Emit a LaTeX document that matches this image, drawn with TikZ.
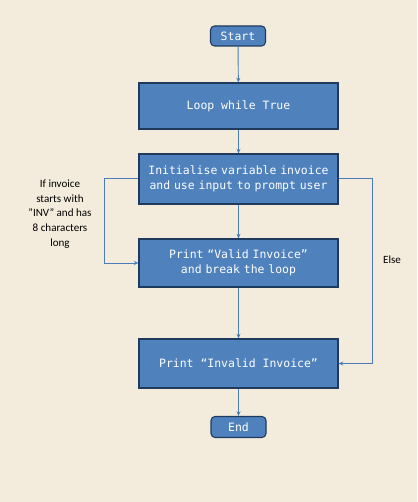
\documentclass[tikz,border=0pt]{standalone}
\usepackage{fontspec}
\setmainfont{Carlito}
\newfontfamily\monof{DejaVu Sans Mono}
\usetikzlibrary{arrows.meta}
\definecolor{bg}{HTML}{F3ECDC}
\definecolor{boxc}{HTML}{4F81BD}
\definecolor{edgec}{HTML}{203A5E}
\definecolor{linec}{HTML}{4A7EBB}
\begin{document}
\begin{tikzpicture}[x=0.75pt,y=-0.75pt,
  box/.style={draw=edgec,line width=0.8pt,fill=boxc,text=white,font=\monof\fontsize{8.6}{11.5}\selectfont,align=center,inner sep=0pt},
  term/.style={box,rounded corners=3pt},
  conn/.style={draw=linec,line width=0.7pt,-{Stealth[length=3.5pt,width=3pt]}},
  lbl/.style={font=\fontsize{8.3}{11}\selectfont,align=center,text=black}]
\fill[bg] (0,0) rectangle (417,502);
\useasboundingbox (0,0) rectangle (417,502);
\node[term,minimum width=41.25pt,minimum height=15pt] (start) at (238,36) {Start};
\node[box,minimum width=149.25pt,minimum height=34.5pt] (loop) at (238.5,106) {Loop while True};
\node[box,minimum width=149.25pt,minimum height=37.5pt,text width=145pt] (init) at (238.5,179) {Initialise variable invoice and use input to prompt user};
\node[box,minimum width=149.25pt,minimum height=36pt,text width=145pt] (valid) at (238.5,263) {Print “Valid Invoice” and break the loop};
\node[box,minimum width=149.25pt,minimum height=36.75pt] (invalid) at (238.5,363.5) {Print “Invalid Invoice”};
\node[term,minimum width=41.25pt,minimum height=15.75pt] (end) at (238.5,427) {End};
\coordinate (lc) at (104,178);
\coordinate (rc) at (372,178);
\draw[conn] (start) -- (loop);
\draw[conn] (loop) -- (init);
\draw[conn] (init) -- (valid);
\draw[conn] (valid) -- (invalid);
\draw[conn] (invalid) -- (end);
\draw[conn] (init.west |- lc) -- (lc) |- (valid.west);
\draw[conn] (init.east |- rc) -- (rc) |- (invalid.east);
\node[lbl] (cond) at (60,214) {If invoice\\starts with\\”INV” and has\\8 characters\\long};
\node[lbl] (else) at (392,260) {Else};
\end{tikzpicture}
\end{document}
